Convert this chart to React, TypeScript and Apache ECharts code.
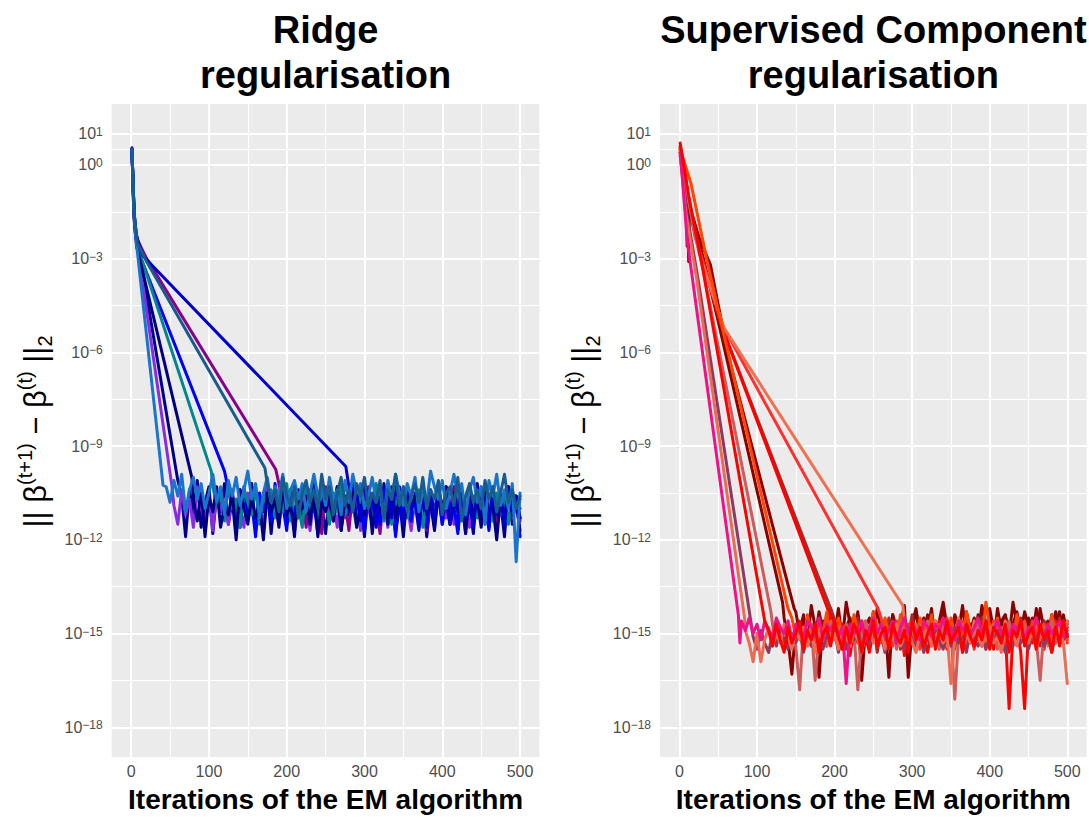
import React, { useEffect, useRef } from "react";
import * as echarts from "echarts";

// ---------- shared axis data ----------
const PLATEAU_STEP = 5; // plateau values below are read every 5 iterations
const xTicks = [0, 100, 200, 300, 400, 500];
const xMinorGrid = [50, 150, 250, 350, 450];
const yTicksLog10 = [-18, -15, -12, -9, -6, -3, 0, 1];
const yMinorGridLog10 = [-16.5, -13.5, -10.5, -7.5, -4.5, -1.5, 0.5];

// ---------- Ridge regularisation (log10 of ||beta(t+1)-beta(t)||_2) ----------
const ridgeColors = ["#00008B", "#8A2BE2", "#8B008B", "#0000FF", "#00868B", "#000080", "#0000CD", "#1874CD", "#185C8E"];
const ridgeDecay: number[][][] = [
  [[1, 0.5], [3, -1.0], [5, -2.0], [60, -10.1]],
  [[1, 0.45], [3, -1.1], [5, -2.1], [52, -10.2]],
  [[1, 0.5], [4, -1.7], [8, -2.4], [20, -3.0], [186, -9.75]],
  [[1, 0.5], [4, -1.7], [8, -2.7], [120, -9.8]],
  [[1, 0.5], [4, -1.6], [8, -2.6], [103, -9.8]],
  [[1, 0.5], [4, -1.8], [7, -2.6], [78, -10.0]],
  [[1, 0.55], [3, -1.2], [6, -2.2], [15, -2.9], [32, -3.35], [276, -9.65]],
  [[1, 0.5], [3, -1.2], [5, -2.1], [41, -10.25]],
  [[1, 0.5], [4, -1.6], [8, -2.5], [20, -3.1], [172, -9.7]],
];
const ridgePlateauStart = [65, 55, 190, 125, 105, 80, 280, 45, 175];
const ridgePlateau: number[][] = [
  [-10.6,-11.9,-10.4,-11.2,-10.1,-11.6,-10.8,-10.3,-11.8,-10.5,
   -11.1,-10.2,-11.5,-10.7,-12.0,-10.4,-10.9,-11.3,-10.2,-11.7,
   -10.6,-11.0,-10.3,-11.8,-10.5,-11.2,-10.1,-11.5,-10.8,-11.9,
   -10.4,-11.1,-10.6,-11.6,-10.2,-11.3,-10.9,-11.8,-10.5,-11.0,
   -10.3,-11.7,-10.6,-11.2,-10.1,-11.5,-10.8,-11.9,-10.4,-11.1,
   -10.7,-11.6,-10.2,-11.3,-10.5,-11.8,-10.9,-11.0,-10.3,-11.6,
   -10.6,-11.4,-10.2,-11.9,-10.7,-11.1,-10.4,-11.5,-10.8,-11.2,
   -10.3,-11.7,-10.5,-11.0,-10.9,-11.8,-10.2,-11.3,-10.6,-11.6,
   -10.4,-11.2,-10.8,-11.9,-10.3,-11.5,-10.6,-11.3],
  [-10.9,-11.5,-10.4,-11.2,-10.7,-11.6,-10.3,-11.0,-11.4,-10.6,
   -11.7,-10.5,-11.1,-10.8,-11.5,-10.4,-11.3,-10.9,-11.6,-10.5,
   -11.0,-11.4,-10.6,-11.7,-10.3,-11.2,-10.8,-11.5,-10.6,-11.1,
   -10.4,-11.6,-10.9,-11.3,-10.5,-11.7,-10.7,-11.0,-11.5,-10.4,
   -11.2,-10.8,-11.6,-10.5,-11.3,-10.9,-11.1,-10.6,-11.7,-10.4,
   -11.0,-11.5,-10.7,-11.2,-10.5,-11.6,-10.8,-11.3,-10.4,-11.1,
   -10.9,-11.7,-10.6,-11.2,-10.5,-11.4,-10.8,-11.6,-10.4,-11.0,
   -11.3,-10.7,-11.5,-10.5,-11.1,-10.9,-11.6,-10.6,-11.2,-10.4,
   -11.5,-10.8,-11.0,-11.7,-10.5,-11.3,-10.7,-11.1,-10.6,-11.4],
  [-10.2,-10.9,-10.5,-11.3,-10.3,-11.0,-10.7,-11.6,-10.4,-11.1,
   -10.6,-11.8,-10.3,-10.9,-11.4,-10.5,-11.0,-10.8,-11.7,-10.4,
   -11.2,-10.6,-11.5,-10.3,-11.0,-10.9,-11.8,-10.5,-11.1,-10.4,
   -11.3,-10.7,-11.6,-10.3,-11.0,-10.8,-11.4,-10.5,-11.7,-10.6,
   -11.1,-10.4,-11.3,-10.9,-11.5,-10.3,-11.0,-10.7,-11.8,-10.5,
   -11.2,-10.6,-11.4,-10.4,-11.0,-10.8,-11.6,-10.5,-11.1,-10.3,
   -11.3,-10.7,-11.0],
  [-10.4,-11.0,-10.7,-11.6,-10.3,-11.2,-10.8,-11.9,-10.5,-11.1,
   -10.6,-11.4,-10.2,-11.0,-10.9,-11.7,-10.4,-11.2,-10.6,-11.5,
   -10.3,-11.1,-10.8,-11.8,-10.5,-11.0,-10.7,-11.3,-10.4,-11.6,
   -10.6,-11.1,-10.3,-11.4,-10.9,-11.7,-10.5,-11.0,-10.7,-11.5,
   -10.4,-11.2,-10.6,-11.9,-10.3,-11.1,-10.8,-11.4,-10.5,-11.0,
   -10.7,-11.6,-10.4,-11.2,-10.6,-11.5,-10.3,-11.0,-10.9,-11.8,
   -10.5,-11.1,-10.7,-11.4,-10.4,-11.3,-10.6,-11.7,-10.3,-11.0,
   -10.8,-11.5,-10.5,-11.2,-10.6,-11.9],
  [-10.3,-10.9,-10.5,-11.4,-10.2,-11.0,-10.7,-11.6,-10.4,-10.8,
   -11.2,-10.3,-11.5,-10.6,-10.9,-10.4,-11.3,-10.7,-11.1,-10.2,
   -11.4,-10.5,-10.9,-11.6,-10.3,-11.0,-10.6,-11.3,-10.4,-10.8,
   -11.5,-10.5,-11.1,-10.3,-11.2,-10.7,-10.9,-11.6,-10.4,-11.0,
   -10.6,-11.4,-10.2,-10.9,-11.2,-10.5,-11.5,-10.7,-11.0,-10.3,
   -11.3,-10.6,-11.1,-10.4,-11.6,-10.8,-10.9,-11.3,-10.3,-11.0,
   -10.5,-11.4,-10.7,-11.1,-10.4,-11.5,-10.6,-10.9,-11.3,-10.3,
   -11.0,-10.8,-11.4,-10.5,-11.2,-10.6,-11.5,-10.4,-11.1,-10.7],
  [-10.7,-11.4,-10.4,-11.9,-10.6,-11.1,-10.3,-11.6,-10.9,-11.2,
   -10.5,-11.8,-10.4,-11.0,-11.5,-10.6,-11.3,-10.8,-12.0,-10.5,
   -11.1,-10.7,-11.6,-10.3,-11.2,-10.9,-11.7,-10.5,-11.0,-10.6,
   -11.5,-10.4,-11.9,-10.8,-11.1,-10.6,-11.4,-10.3,-11.7,-10.7,
   -11.0,-10.5,-11.6,-10.9,-11.2,-10.4,-11.8,-10.6,-11.1,-10.8,
   -11.5,-10.3,-11.3,-10.7,-11.9,-10.5,-11.0,-10.6,-11.6,-10.4,
   -11.2,-10.8,-11.7,-10.5,-11.1,-10.3,-11.5,-10.9,-11.0,-10.6,
   -11.8,-10.4,-11.3,-10.7,-11.6,-10.5,-11.1,-10.9,-12.0,-10.6,
   -11.4,-10.3,-11.2,-10.8,-11.7],
  [-10.3,-10.9,-10.5,-11.4,-10.2,-11.0,-10.7,-11.6,-10.4,-11.1,
   -10.6,-11.3,-10.3,-10.9,-11.5,-10.5,-11.0,-10.8,-11.7,-10.4,
   -11.2,-10.6,-11.4,-10.3,-11.0,-10.7,-11.5,-10.5,-11.1,-10.4,
   -11.3,-10.8,-11.6,-10.3,-11.0,-10.6,-11.4,-10.5,-11.2,-10.7,
   -11.5,-10.4,-11.1,-10.6,-11.3],
  [-10.3,-10.8,-10.1,-10.6,-9.9,-11.1,-10.4,-10.0,-10.7,-10.2,
   -11.0,-10.5,-9.9,-10.8,-10.3,-11.2,-10.1,-10.6,-10.0,-10.9,
   -10.4,-9.8,-10.7,-10.2,-11.3,-10.5,-10.0,-10.8,-10.3,-10.6,
   -9.9,-11.0,-10.4,-10.1,-10.7,-10.2,-11.1,-10.5,-9.9,-10.6,
   -10.3,-10.9,-10.0,-10.7,-10.4,-11.2,-10.1,-10.8,-9.9,-10.5,
   -10.2,-11.0,-10.6,-10.0,-10.8,-10.3,-11.4,-10.1,-10.7,-9.9,
   -10.5,-10.9,-10.2,-10.6,-10.0,-11.1,-10.4,-10.8,-9.8,-10.3,
   -10.7,-10.1,-11.0,-10.5,-9.9,-10.6,-10.2,-11.2,-10.4,-10.0,
   -10.8,-10.3,-11.5,-10.1,-10.6,-9.9,-10.9,-10.4,-11.0,-10.2,
   -12.7,-10.5],
  [-10.2,-10.8,-10.4,-11.1,-10.0,-10.6,-10.9,-10.3,-11.3,-10.5,
   -10.1,-10.8,-10.4,-11.0,-9.9,-10.7,-10.3,-11.2,-10.5,-10.0,
   -10.9,-10.4,-11.1,-10.2,-10.6,-10.0,-11.0,-10.5,-10.8,-10.1,
   -11.3,-10.4,-10.7,-9.9,-10.9,-10.3,-11.1,-10.6,-10.2,-10.8,
   -10.0,-11.0,-10.4,-10.7,-10.1,-11.2,-10.5,-10.3,-10.9,-10.0,
   -11.4,-10.6,-10.2,-10.8,-10.4,-11.0,-10.1,-10.7,-10.3,-11.1,
   -10.5,-9.9,-10.8,-10.4,-11.0,-10.6],
];

// ---------- Supervised Component regularisation ----------
const scColors = ["#8B0000", "#8B0000", "#A52A2A", "#FF0000", "#FF3030", "#F07050", "#FF4500", "#CD5C5C", "#8B3A62", "#EE6A50", "#EE1289", "#FF0000"];
const scDecay: number[][][] = [
  [[1, 0.6], [6, 0.0], [10, -0.8], [12, -3.1], [13, -1.3], [25, -2.3], [40, -3.2], [62, -6.0], [148, -14.2]],
  [[1, 0.4], [8, -0.5], [10, -2.6], [11, -1.2], [30, -2.9], [50, -5.0], [133, -14.0]],
  [[1, 0.5], [20, -2.2], [55, -5.2], [198, -14.4]],
  [[1, 0.55], [18, -2.0], [52, -5.0], [197, -14.6]],
  [[1, 0.5], [20, -2.3], [57, -5.2], [256, -14.2]],
  [[1, 0.5], [25, -2.8], [57, -5.2], [288, -14.1]],
  [[1, 0.5], [15, -0.6], [35, -3.0], [58, -5.5], [140, -14.2]],
  [[1, 0.45], [12, -1.2], [30, -3.3], [118, -14.3]],
  [[1, 0.3], [10, -1.6], [25, -3.8], [92, -14.6]],
  [[1, 0.4], [8, -1.5], [22, -3.6], [84, -14.5]],
  [[1, 0.4], [5, -0.8], [10, -2.4], [76, -14.4], [78, -15.3]],
  [[1, 0.7], [12, -1.0], [30, -3.3], [110, -14.6]],
];
const scPlateauStart = [150, 135, 200, 200, 260, 290, 145, 120, 95, 85, 80, 115];
const scPlateau: number[][] = [
  [-14.3,-15.0,-14.5,-15.3,-14.1,-14.8,-16.4,-14.6,-15.1,-14.2,
   -14.9,-14.4,-15.2,-14.0,-14.7,-15.0,-14.3,-16.5,-14.8,-14.5,
   -15.1,-14.2,-14.9,-14.6,-16.4,-14.4,-15.2,-14.7,-14.1,-16.4,
   -14.8,-14.3,-15.0,-14.5,-14.9,-14.2,-15.3,-14.6,-14.0,-14.8,
   -15.1,-14.4,-14.7,-15.2,-14.3,-14.9,-14.5,-15.0,-14.1,-14.8,
   -14.6,-15.3,-14.2,-14.9,-14.4,-15.1,-14.0,-14.7,-15.0,-14.3,
   -14.8,-14.5,-15.2,-14.2,-14.9,-14.6,-15.0,-14.3,-14.8,-14.4,
   -15.1],
  [-14.5,-15.2,-16.3,-14.8,-15.0,-14.4,-15.3,-14.7,-15.1,-14.3,
   -14.9,-15.4,-14.6,-15.0,-14.2,-15.2,-14.8,-14.5,-15.3,-14.4,
   -15.0,-14.7,-15.4,-14.3,-14.9,-15.1,-14.6,-15.2,-14.4,-14.8,
   -15.3,-14.5,-15.0,-14.7,-14.2,-15.1,-14.9,-14.4,-15.3,-14.6,
   -15.0,-14.3,-14.8,-15.2,-14.5,-14.9,-14.1,-15.1,-14.7,-15.3,
   -14.4,-14.8,-15.0,-14.2,-14.9,-15.2,-14.6,-14.4,-15.1,-14.7,
   -14.3,-15.0,-14.8,-14.5,-15.2,-14.2,-14.9,-14.6,-15.1,-14.4,
   -14.8,-14.3,-15.0,-14.6],
  [-14.6,-15.3,-14.9,-15.5,-14.7,-15.1,-14.5,-15.4,-14.8,-15.0,
   -14.6,-15.6,-14.9,-15.2,-14.5,-15.0,-14.8,-15.5,-14.7,-15.1,
   -14.4,-15.3,-14.9,-15.0,-14.6,-15.4,-14.8,-15.2,-14.5,-15.1,
   -14.9,-15.5,-14.7,-15.0,-14.6,-15.3,-14.8,-15.2,-14.5,-15.4,
   -14.9,-15.1,-14.7,-15.5,-14.6,-15.0,-14.8,-15.3,-14.5,-15.2,
   -14.9,-15.0,-14.7,-15.4,-14.6,-15.1,-14.8,-15.3,-14.5,-15.0,
   -14.7],
  [-14.9,-15.5,-14.7,-15.2,-15.7,-14.8,-15.3,-14.6,-15.1,-15.6,
   -14.9,-15.4,-14.7,-15.0,-15.5,-14.8,-15.2,-14.6,-15.7,-15.0,
   -14.8,-15.4,-14.7,-15.1,-15.6,-14.9,-15.3,-14.6,-15.0,-15.5,
   -14.8,-15.2,-14.7,-15.6,-14.9,-15.1,-15.4,-14.6,-15.0,-15.3,
   -14.8,-15.5,-14.7,-15.2,-14.9,-17.4,-15.0,-14.8,-15.6,-17.4,
   -14.9,-15.3,-14.7,-15.1,-15.5,-14.8,-15.2,-14.6,-15.4,-15.0,
   -14.8],
  [-14.5,-15.1,-14.8,-15.4,-14.6,-15.0,-15.3,-14.7,-15.2,-14.9,
   -15.5,-14.6,-15.0,-14.8,-15.3,-14.7,-15.1,-14.5,-15.4,-14.9,
   -15.0,-14.6,-15.2,-14.8,-15.5,-14.7,-15.1,-14.9,-15.3,-14.6,
   -15.0,-14.8,-15.4,-14.7,-15.2,-14.5,-15.1,-14.9,-15.3,-14.6,
   -15.0,-14.8,-15.5,-14.7,-15.2,-14.9,-15.0,-14.6,-15.3],
  [-14.6,-15.2,-14.9,-15.5,-14.7,-15.0,-14.8,-15.3,-14.6,-15.1,
   -14.9,-15.4,-14.7,-15.0,-14.5,-15.2,-14.8,-15.3,-14.6,-15.1,
   -14.9,-15.5,-14.7,-15.0,-14.8,-15.2,-14.6,-15.4,-14.9,-15.1,
   -14.7,-15.3,-14.8,-15.0,-14.6,-15.2,-14.9,-15.4,-14.7,-15.1,
   -14.8,-15.0,-14.6],
  [-14.5,-15.1,-14.7,-15.3,-14.4,-14.9,-15.2,-14.6,-15.0,-14.3,
   -15.3,-14.8,-14.5,-15.1,-14.7,-15.4,-14.4,-14.9,-15.2,-14.6,
   -15.0,-14.3,-14.8,-15.3,-14.5,-15.0,-14.7,-15.2,-14.4,-14.9,
   -15.1,-14.6,-15.3,-14.5,-14.8,-15.0,-14.4,-15.2,-14.7,-14.9,
   -15.3,-14.5,-15.0,-14.6,-15.2,-14.3,-14.9,-15.1,-14.6,-15.4,
   -14.0,-14.8,-15.0,-14.5,-15.2,-14.7,-14.9,-15.3,-14.4,-15.0,
   -14.6,-15.2,-14.8,-14.5,-15.1,-14.7,-15.3,-14.4,-14.9,-15.0,
   -14.6,-15.2],
  [-14.7,-15.3,-14.9,-15.5,-14.6,-15.1,-15.4,-16.8,-14.8,-15.2,
   -14.7,-16.5,-15.0,-14.9,-15.4,-14.6,-15.2,-14.8,-15.5,-14.7,
   -15.1,-14.9,-16.8,-15.0,-14.6,-15.3,-14.8,-15.4,-14.7,-15.0,
   -15.2,-14.9,-15.5,-14.6,-15.1,-14.8,-15.3,-14.7,-15.0,-15.4,
   -14.6,-15.2,-14.9,-15.5,-14.7,-15.1,-14.8,-17.1,-15.0,-14.7,
   -15.3,-14.9,-15.2,-14.6,-15.4,-14.8,-15.0,-14.7,-15.5,-14.9,
   -15.1,-14.6,-15.3,-14.8,-15.0,-14.7,-15.4,-14.9,-15.2,-16.5,
   -14.8,-15.1,-14.6,-15.3,-14.9,-15.0,-14.7],
  [-15.1,-15.5,-14.9,-15.3,-15.6,-15.0,-15.4,-14.8,-15.2,-15.5,
   -15.0,-15.3,-14.9,-15.6,-15.1,-15.4,-14.8,-15.2,-15.5,-15.0,
   -15.3,-14.9,-15.6,-15.1,-15.4,-15.0,-15.2,-14.8,-15.5,-15.1,
   -15.3,-14.9,-15.4,-15.0,-15.6,-15.2,-14.9,-15.3,-15.1,-15.5,
   -14.8,-15.2,-15.4,-15.0,-15.6,-15.1,-15.3,-14.9,-15.2,-15.5,
   -15.0,-15.4,-14.8,-15.3,-15.1,-15.6,-14.9,-15.2,-15.4,-15.0,
   -15.5,-15.1,-15.3,-14.9,-15.2,-15.6,-15.0,-15.4,-14.8,-15.3,
   -15.1,-15.5,-15.0,-15.2,-14.9,-15.4,-15.1,-15.6,-15.0,-15.3,
   -15.2,-15.0],
  [-14.9,-15.3,-15.9,-15.0,-15.9,-15.2,-14.8,-15.4,-15.0,-15.3,
   -14.7,-15.1,-15.5,-14.9,-15.2,-14.8,-15.4,-15.0,-15.6,-14.9,
   -15.2,-14.7,-15.3,-15.0,-15.5,-14.8,-15.1,-15.4,-14.9,-15.2,
   -15.6,-15.0,-14.8,-15.3,-15.1,-14.9,-15.5,-15.0,-15.2,-14.7,
   -15.4,-15.1,-14.9,-15.3,-15.6,-15.0,-15.2,-14.8,-15.4,-15.1,
   -14.9,-15.3,-15.0,-16.6,-15.2,-14.8,-15.5,-15.0,-15.3,-14.9,
   -15.1,-15.4,-15.0,-14.8,-15.3,-15.1,-15.6,-14.9,-15.2,-15.0,
   -15.4,-14.8,-15.1,-15.3,-14.9,-15.5,-15.0,-15.2,-14.8,-15.4,
   -15.1,-14.9,-15.3,-16.6],
  [-14.6,-14.9,-14.5,-15.0,-14.7,-15.2,-14.6,-14.9,-15.1,-14.5,
   -14.8,-15.0,-14.6,-15.3,-14.7,-14.9,-15.1,-14.6,-14.8,-15.0,
   -14.5,-15.2,-14.7,-14.9,-14.6,-15.1,-14.8,-16.6,-14.7,-15.0,
   -14.9,-14.6,-15.2,-14.8,-14.5,-15.0,-14.7,-15.1,-14.9,-14.6,
   -15.3,-14.8,-14.5,-15.0,-14.7,-14.9,-15.2,-14.6,-14.8,-15.1,
   -14.7,-14.9,-14.5,-15.0,-14.8,-15.2,-14.6,-14.9,-14.7,-15.1,
   -14.8,-14.5,-15.0,-14.7,-15.2,-14.9,-14.6,-15.0,-14.8,-15.1,
   -14.7,-14.9,-14.6,-15.2,-14.8,-15.0,-14.5,-14.9,-15.1,-14.7,
   -15.0,-14.8,-14.6,-15.1,-14.9],
  [-14.9,-15.4,-14.7,-15.2,-15.6,-14.8,-15.3,-15.0,-14.6,-15.5,
   -14.9,-15.2,-14.7,-15.6,-15.0,-14.8,-15.4,-14.6,-15.1,-15.5,
   -14.8,-15.3,-14.7,-15.0,-15.6,-14.9,-15.2,-14.6,-15.4,-15.0,
   -14.8,-15.5,-14.7,-15.1,-15.3,-14.9,-15.6,-14.6,-15.2,-14.8,
   -15.4,-15.0,-14.7,-15.5,-14.9,-15.2,-14.6,-15.3,-15.0,-14.8,
   -15.6,-14.7,-15.1,-15.4,-14.9,-15.2,-14.6,-15.5,-14.8,-15.0,
   -15.3,-14.7,-15.6,-14.9,-15.1,-14.6,-15.4,-15.0,-14.8,-15.5,
   -14.7,-15.2,-14.9,-15.6,-14.8,-15.3,-14.6,-15.1],
];

const FONT = '"Liberation Sans", Arial, Helvetica, sans-serif';
const LABEL_GREY = "#4D4D4D";

function runSeries(decay: number[][][], starts: number[], plateau: number[][], colors: string[], idx: number) {
  return decay.map((d, i) => {
    const pts: number[][] = d.map((p) => [p[0], p[1]]);
    plateau[i].forEach((v, k) => pts.push([starts[i] + k * PLATEAU_STEP, v]));
    return {
      type: "line",
      xAxisIndex: idx,
      yAxisIndex: idx,
      data: pts,
      symbol: "none",
      showSymbol: false,
      silent: true,
      z: 3,
      clip: true,
      lineStyle: { color: colors[i], width: 3, join: "round", cap: "round" },
      itemStyle: { color: colors[i] },
      emphasis: { disabled: true },
    };
  });
}

function gridLineSeries(idx: number) {
  const mk = (vals: number[], key: string, w: number) =>
    vals.map((v) => ({ [key]: v, lineStyle: { color: "#FFFFFF", width: w, type: "solid" } }));
  return {
    type: "line",
    xAxisIndex: idx,
    yAxisIndex: idx,
    data: [],
    silent: true,
    z: 1,
    markLine: {
      silent: true,
      z: 1,
      animation: false,
      symbol: ["none", "none"],
      label: { show: false },
      emphasis: { disabled: true },
      data: [
        ...mk(xMinorGrid, "xAxis", 1),
        ...mk(yMinorGridLog10, "yAxis", 1),
        ...mk(xTicks, "xAxis", 2),
        ...mk(yTicksLog10, "yAxis", 2),
      ],
    },
  };
}

function yLabel(v: number) {
  const e = Math.round(v);
  const s = e < 0 ? "\u2212" + -e : String(e);
  return `{b|10}{sup|${s}}`;
}

function makeXAxis(idx: number) {
  return {
    type: "value",
    gridIndex: idx,
    min: -25,
    max: 525,
    splitLine: { show: false },
    axisLine: { show: false },
    axisTick: { show: true, length: 4, customValues: xTicks, lineStyle: { color: "#333333", width: 1.1 } },
    axisLabel: { customValues: xTicks, color: LABEL_GREY, fontSize: 16, fontFamily: FONT, margin: 6 },
    name: "Iterations of the EM algorithm",
    nameLocation: "middle",
    nameGap: 28,
    nameTextStyle: { color: "#000000", fontSize: 28, fontWeight: "bold", fontFamily: FONT, lineHeight: 28 },
  };
}

function makeYAxis(idx: number) {
  return {
    type: "value",
    gridIndex: idx,
    min: -18.95,
    max: 1.95,
    splitLine: { show: false },
    axisLine: { show: false },
    axisTick: { show: true, length: 4, customValues: yTicksLog10, lineStyle: { color: "#333333", width: 1.1 } },
    axisLabel: {
      customValues: yTicksLog10,
      margin: 9,
      formatter: yLabel,
      rich: {
        b: { fontSize: 16, color: LABEL_GREY, fontFamily: FONT, lineHeight: 16, padding: [6, 0, 0, 0], verticalAlign: "bottom" },
        sup: { fontSize: 12, color: LABEL_GREY, fontFamily: FONT, lineHeight: 12, verticalAlign: "top" },
      },
    },
  };
}

function yTitle(x: number) {
  return {
    type: "text",
    x,
    y: 431.5,
    rotation: Math.PI / 2,
    silent: true,
    style: {
      text: "{m||| \u03B2}{s|(t+1)}{m| \u2212 \u03B2}{s|(t)}{m| ||}{d|2}",
      align: "center",
      verticalAlign: "middle",
      fill: "#000000",
      rich: {
        m: { fontSize: 31, fontFamily: FONT, fill: "#000000", lineHeight: 40, verticalAlign: "middle" },
        s: { fontSize: 20, fontFamily: FONT, fill: "#000000", lineHeight: 14, verticalAlign: "top" },
        d: { fontSize: 20, fontFamily: FONT, fill: "#000000", lineHeight: 23, verticalAlign: "bottom" },
      },
    },
  };
}

function panelTitle(x: number, text: string) {
  return {
    type: "text",
    x,
    y: 7,
    silent: true,
    style: {
      text,
      align: "center",
      verticalAlign: "top",
      fill: "#000000",
      font: `bold 38px ${FONT}`,
      lineHeight: 45,
    },
  };
}

export default function App() {
  const ref = useRef<HTMLDivElement>(null);
  useEffect(() => {
    document.body.style.margin = "0";
    if (!ref.current) return;
    const chart = echarts.init(ref.current, null, { renderer: "svg" });
    const option: any = {
      animation: false,
      backgroundColor: "#FFFFFF",
      grid: [
        { left: 111.7, top: 104, width: 427.8, height: 655.3, show: true, backgroundColor: "#EBEBEB", borderWidth: 0, containLabel: false },
        { left: 660, top: 104, width: 426.7, height: 655.3, show: true, backgroundColor: "#EBEBEB", borderWidth: 0, containLabel: false },
      ],
      xAxis: [makeXAxis(0), makeXAxis(1)],
      yAxis: [makeYAxis(0), makeYAxis(1)],
      series: [
        gridLineSeries(0),
        gridLineSeries(1),
        ...runSeries(ridgeDecay, ridgePlateauStart, ridgePlateau, ridgeColors, 0),
        ...runSeries(scDecay, scPlateauStart, scPlateau, scColors, 1),
      ],
      graphic: [
        panelTitle(325.6, "Ridge\nregularisation"),
        panelTitle(873.4, "Supervised Component\nregularisation"),
        yTitle(35),
        yTitle(583.3),
      ],
    };
    chart.setOption(option);
    return () => chart.dispose();
  }, []);
  return <div ref={ref} style={{ width: 1089, height: 818 }} />;
}
